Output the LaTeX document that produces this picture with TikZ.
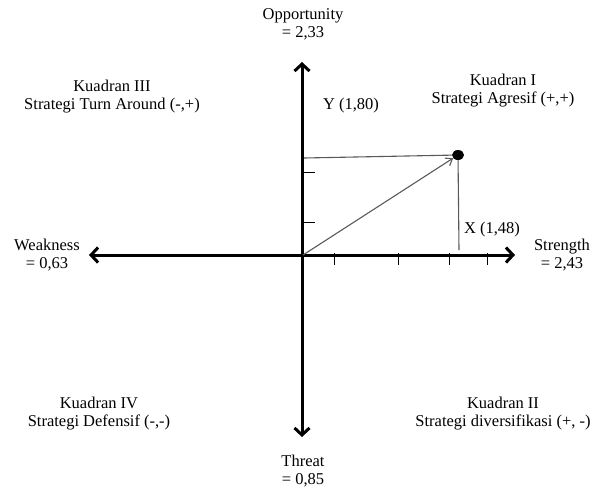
\documentclass[tikz,border=0pt]{standalone}
\usepackage{fontspec}
\setmainfont{Liberation Serif}
\usetikzlibrary{arrows.meta,shapes.geometric}
\begin{document}
\begin{tikzpicture}[x=1pt,y=-1pt,
  lbl/.style={font=\fontsize{16.5}{18}\selectfont, align=center, inner sep=0pt},
  axis/.style={line width=3pt, -{Straight Barb[length=7pt,width=15pt,line width=3pt]}},
  guide/.style={draw=black!65, line width=1.1pt},
  vec/.style={guide, -{Straight Barb[length=6pt,width=9pt,line width=1.1pt]}},
  tick/.style={line width=1pt}]
\useasboundingbox (0,0) rectangle (604,488);
% axes
\coordinate (O) at (302,255);
\coordinate (top) at (302,62);
\coordinate (bot) at (302,437);
\coordinate (left) at (89,255);
\coordinate (right) at (515,255);
\draw[axis] (O) -- (top);
\draw[axis] (O) -- (bot);
\draw[axis] (O) -- (left);
\draw[axis] (O) -- (right);
% ticks
\foreach \tx in {334,398,449,487} \draw[tick] (\tx,253) -- (\tx,265);
\foreach \ty in {172,222} \draw[tick] (302,\ty) -- (315,\ty);
% point and guides
\node[ellipse, fill=black, minimum width=12pt, minimum height=10pt, inner sep=0pt] (P) at (458,155) {};
\coordinate (yfoot) at (304,158);
\coordinate (xfoot) at (459,250);
\coordinate (O2) at (303,255);
\draw[guide] (yfoot) -- (P);
\draw[guide] (P) -- (xfoot);
\draw[vec] (O2) -- (P);
% labels
\node[lbl] (opp) at (303,24) {Opportunity\\= 2,33};
\node[lbl] (thr) at (303,471) {Threat\\= 0,85};
\node[lbl] (weak) at (47,255) {Weakness\\= 0,63};
\node[lbl] (str) at (562,255) {Strength\\= 2,43};
\node[lbl] (k1) at (503,91) {Kuadran I\\Strategi Agresif (+,+)};
\node[lbl] (k3) at (112,97) {Kuadran III\\Strategi Turn Around (-,+)};
\node[lbl] (k4) at (99,414) {Kuadran IV\\Strategi Defensif (-,-)};
\node[lbl] (k2) at (503,414) {Kuadran II\\Strategi diversifikasi (+, -)};
\node[lbl] (ylab) at (351,106) {Y (1,80)};
\node[lbl] (xlab) at (492,230) {X (1,48)};
\end{tikzpicture}
\end{document}
